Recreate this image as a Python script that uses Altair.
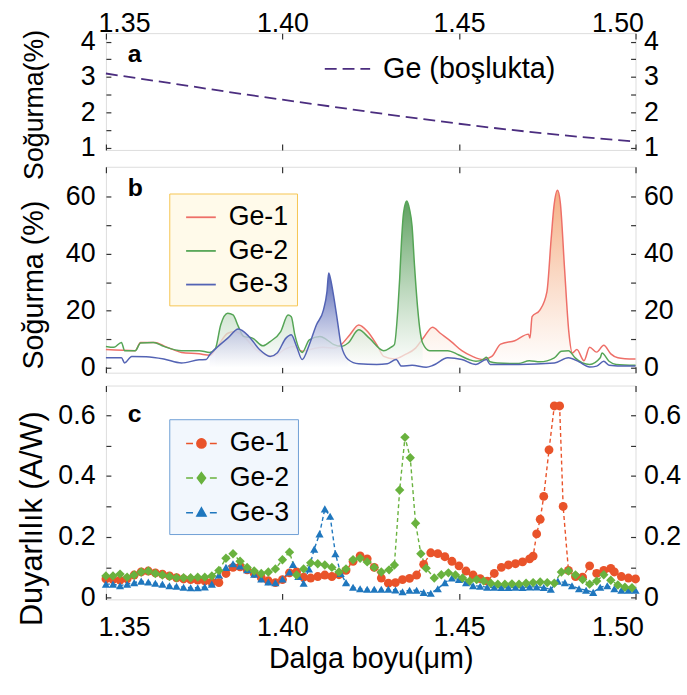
import altair as alt
import pandas as pd

FONT = "Liberation Sans"

# ---------------- Panel a : Ge (in void) absorption ----------------
wl_a = [1.35, 1.36, 1.37, 1.38, 1.39, 1.40, 1.41, 1.42, 1.43, 1.44, 1.45, 1.46, 1.47, 1.48, 1.49, 1.50]
abs_a = [3.10, 2.95, 2.80, 2.65, 2.50, 2.36, 2.22, 2.08, 1.94, 1.81, 1.68, 1.56, 1.45, 1.35, 1.26, 1.18]

# ---------------- Panel b : absorption of Ge-1/2/3 ----------------
wl_b1 = [1.3500, 1.3583, 1.3598, 1.3639, 1.3664, 1.3714, 1.3764, 1.3794, 1.3810, 1.3845,
         1.3865, 1.3895, 1.3925, 1.3955, 1.3975, 1.4005, 1.4030, 1.4056, 1.4086, 1.4116,
         1.4146, 1.4166, 1.4191, 1.4216, 1.4241, 1.4267, 1.4287, 1.4317, 1.4347, 1.4377,
         1.4402, 1.4425, 1.4447, 1.4478, 1.4508, 1.4538, 1.4568, 1.4593, 1.4618, 1.4658,
         1.4697, 1.4701, 1.4707, 1.4729, 1.4749, 1.4761, 1.4769, 1.4779, 1.4787, 1.4799,
         1.4811, 1.4821, 1.4834, 1.4854, 1.4870, 1.4890, 1.4910, 1.4930, 1.4950, 1.4970, 1.5000]
abs_b1 = [6.4, 6.0, 8.9, 8.9, 7.7, 5.4, 4.9, 4.4, 6.4, 12.1,
          12.7, 10.4, 6.4, 4.4, 4.0, 6.4, 7.5, 5.8, 6.7, 7.2,
          6.9, 8.1, 11.6, 15.0, 12.7, 8.1, 4.0, 3.1, 4.6, 6.9,
          11.0, 14.2, 12.1, 9.2, 6.0, 4.0, 2.9, 4.0, 8.3, 9.5,
          11.8, 10.4, 17.9, 20.2, 26.6, 45.1, 56.6, 62.2, 57.8, 34.7,
          12.7, 5.2, 6.4, 2.5, 7.2, 5.5, 7.9, 4.9, 3.5, 3.2, 3.1]

wl_b2 = [1.3500, 1.3523, 1.3544, 1.3553, 1.3583, 1.3598, 1.3634, 1.3664, 1.3714, 1.3764,
         1.3794, 1.3810, 1.3825, 1.3845, 1.3860, 1.3875, 1.3890, 1.3915, 1.3945, 1.3965,
         1.3995, 1.4016, 1.4025, 1.4035, 1.4056, 1.4076, 1.4106, 1.4126, 1.4146, 1.4166,
         1.4186, 1.4216, 1.4246, 1.4287, 1.4307, 1.4317, 1.4327, 1.4332, 1.4337, 1.4343,
         1.4352, 1.4360, 1.4367, 1.4374, 1.4383, 1.4390, 1.4397, 1.4417, 1.4468, 1.4498,
         1.4528, 1.4548, 1.4568, 1.4578, 1.4588, 1.4608, 1.4669, 1.4699, 1.4729, 1.4770,
         1.4790, 1.4810, 1.4829, 1.4850, 1.4870, 1.4900, 1.4905, 1.4925, 1.4945, 1.5000]
abs_b2 = [7.5, 7.2, 8.9, 6.0, 6.0, 8.7, 8.9, 7.5, 6.0, 6.0,
          5.4, 6.7, 15.0, 19.1, 18.5, 14.5, 11.0, 10.4, 7.7, 9.2,
          12.7, 18.5, 17.9, 11.6, 5.4, 9.8, 11.0, 9.8, 8.1, 7.5,
          8.7, 13.3, 10.4, 6.0, 7.2, 8.1, 20.8, 31.2, 43.9, 54.3,
          58.4, 55.5, 49.7, 35.8, 20.8, 12.7, 8.7, 6.0, 6.0, 4.6,
          2.9, 2.3, 2.9, 3.7, 2.1, 1.7, 1.5, 2.5, 2.1, 3.5,
          5.8, 6.0, 3.5, 1.7, 1.2, 3.5, 5.2, 2.3, 1.2, 0.9]

wl_b3 = [1.3500, 1.3544, 1.3553, 1.3573, 1.3614, 1.3664, 1.3714, 1.3764, 1.3784, 1.3794,
         1.3815, 1.3845, 1.3875, 1.3905, 1.3935, 1.3965, 1.3985, 1.4010, 1.4025, 1.4040,
         1.4056, 1.4076, 1.4096, 1.4116, 1.4126, 1.4131, 1.4136, 1.4146, 1.4156, 1.4166,
         1.4186, 1.4216, 1.4267, 1.4297, 1.4322, 1.4337, 1.4367, 1.4407, 1.4427, 1.4468,
         1.4508, 1.4548, 1.4578, 1.4588, 1.4669, 1.4770, 1.4810, 1.4840, 1.4870, 1.4890,
         1.4910, 1.4925, 1.4973, 1.5000]
abs_b3 = [3.5, 3.5, 1.7, 4.0, 3.9, 3.1, 1.7, 2.8, 2.9, 4.6,
          7.2, 10.4, 13.6, 11.0, 6.4, 4.0, 5.2, 10.4, 11.6, 7.5,
          2.9, 8.1, 15.0, 20.2, 26.6, 33.2, 31.2, 24.3, 16.2, 8.1,
          2.9, 1.4, 1.2, 1.4, 2.9, 0.6, 0.9, 0.2, 0.9, 3.5,
          2.9, 1.2, 2.9, 1.2, 1.2, 1.7, 3.5, 2.1, 0.3, 0.6,
          2.3, 0.9, 0.6, 0.6]

# ---------------- Panel c : responsivity (A/W) ----------------
wl_c1 = [1.350, 1.352, 1.354, 1.356, 1.358, 1.360, 1.362, 1.364, 1.366, 1.368,
         1.370, 1.372, 1.374, 1.376, 1.378, 1.380, 1.382, 1.384, 1.386, 1.388,
         1.390, 1.392, 1.394, 1.396, 1.398, 1.400, 1.402, 1.404, 1.406, 1.408,
         1.410, 1.412, 1.414, 1.416, 1.418, 1.420, 1.422, 1.424, 1.426, 1.428,
         1.430, 1.432, 1.434, 1.436, 1.438, 1.440, 1.442, 1.444, 1.446, 1.448,
         1.450, 1.452, 1.454, 1.456, 1.458, 1.460, 1.462, 1.464, 1.466, 1.468,
         1.470, 1.471, 1.472, 1.473, 1.474, 1.4755, 1.477, 1.4785, 1.4795, 1.481,
         1.483, 1.485, 1.487, 1.489, 1.491, 1.493, 1.494, 1.496, 1.498, 1.500]
resp_c1 = [0.062, 0.060, 0.058, 0.062, 0.075, 0.085, 0.088, 0.082, 0.078, 0.072,
           0.066, 0.062, 0.060, 0.058, 0.056, 0.052, 0.050, 0.080, 0.100, 0.102,
           0.092, 0.080, 0.066, 0.056, 0.050, 0.060, 0.082, 0.085, 0.068, 0.065,
           0.070, 0.075, 0.070, 0.076, 0.090, 0.120, 0.138, 0.128, 0.100, 0.065,
           0.048, 0.050, 0.060, 0.064, 0.075, 0.110, 0.148, 0.145, 0.135, 0.120,
           0.105, 0.088, 0.075, 0.063, 0.055, 0.080, 0.100, 0.108, 0.112, 0.118,
           0.128, 0.137, 0.210, 0.258, 0.333, 0.486, 0.630, 0.630, 0.300, 0.090,
           0.070, 0.068, 0.105, 0.080, 0.090, 0.097, 0.085, 0.070, 0.065, 0.062]

wl_c2 = [1.350, 1.352, 1.354, 1.356, 1.358, 1.360, 1.362, 1.364, 1.366, 1.368,
         1.370, 1.372, 1.374, 1.376, 1.378, 1.380, 1.382, 1.384, 1.386, 1.388,
         1.390, 1.392, 1.394, 1.396, 1.398, 1.400, 1.402, 1.404, 1.406, 1.408,
         1.410, 1.412, 1.414, 1.416, 1.418, 1.420, 1.422, 1.424, 1.426, 1.428,
         1.4302, 1.4317, 1.4332, 1.4347, 1.4362, 1.4377, 1.4392, 1.4407,
         1.443, 1.445, 1.447, 1.449, 1.451, 1.453, 1.455, 1.457, 1.459, 1.461,
         1.463, 1.465, 1.467, 1.469, 1.471, 1.473, 1.475, 1.477, 1.479, 1.481,
         1.483, 1.485, 1.487, 1.489, 1.491, 1.493, 1.495, 1.497, 1.499]
resp_c2 = [0.072, 0.072, 0.078, 0.068, 0.075, 0.085, 0.088, 0.080, 0.075, 0.070,
           0.066, 0.066, 0.066, 0.068, 0.068, 0.072, 0.090, 0.130, 0.145, 0.120,
           0.100, 0.088, 0.080, 0.085, 0.095, 0.125, 0.150, 0.075, 0.095, 0.115,
           0.112, 0.108, 0.100, 0.085, 0.095, 0.125, 0.130, 0.118, 0.100, 0.085,
           0.092, 0.108, 0.354, 0.527, 0.460, 0.245, 0.145, 0.097,
           0.065, 0.076, 0.082, 0.075, 0.065, 0.055, 0.060, 0.055, 0.048, 0.045,
           0.045, 0.046, 0.045, 0.048, 0.050, 0.052, 0.050, 0.048, 0.085, 0.088,
           0.075, 0.060, 0.045, 0.055, 0.076, 0.058, 0.042, 0.035, 0.033]

wl_c3 = [1.350, 1.352, 1.354, 1.356, 1.358, 1.360, 1.362, 1.364, 1.366, 1.368,
         1.370, 1.372, 1.374, 1.376, 1.378, 1.380, 1.382, 1.384, 1.386, 1.388,
         1.390, 1.392, 1.394, 1.396, 1.398, 1.400, 1.402,
         1.403, 1.4045, 1.406, 1.4075, 1.409, 1.4105, 1.412, 1.4135, 1.415, 1.4165, 1.418,
         1.420, 1.422, 1.424, 1.426, 1.428, 1.430, 1.432, 1.434, 1.436, 1.438,
         1.440, 1.442, 1.444, 1.446, 1.448, 1.450, 1.452, 1.454, 1.456, 1.458,
         1.460, 1.462, 1.464, 1.466, 1.468, 1.470, 1.472, 1.474, 1.476, 1.478,
         1.480, 1.482, 1.484, 1.486, 1.488, 1.490, 1.492, 1.494, 1.496, 1.498, 1.500]
resp_c3 = [0.045, 0.045, 0.040, 0.045, 0.050, 0.055, 0.052, 0.048, 0.045, 0.040,
           0.038, 0.035, 0.033, 0.033, 0.036, 0.045, 0.075, 0.100, 0.112, 0.105,
           0.092, 0.078, 0.062, 0.052, 0.050, 0.062, 0.085,
           0.110, 0.070, 0.048, 0.095, 0.160, 0.210, 0.292, 0.268, 0.145, 0.080, 0.050,
           0.035, 0.030, 0.028, 0.028, 0.028, 0.028, 0.026, 0.020, 0.025, 0.025,
           0.018, 0.015, 0.030, 0.050, 0.065, 0.060, 0.050, 0.040, 0.038, 0.035,
           0.035, 0.034, 0.034, 0.035, 0.034, 0.036, 0.036, 0.034, 0.028, 0.055,
           0.050, 0.040, 0.030, 0.025, 0.018, 0.035, 0.040, 0.030, 0.025, 0.025, 0.025]

series = ["Ge-1", "Ge-2", "Ge-3"]
x_ticks = [1.35, 1.40, 1.45, 1.50]

df_a = pd.DataFrame({"wl": wl_a, "v": abs_a, "s": "Ge (boşlukta)"})
df_b = pd.concat([
    pd.DataFrame({"wl": wl_b1, "v": abs_b1, "s": "Ge-1"}),
    pd.DataFrame({"wl": wl_b2, "v": abs_b2, "s": "Ge-2"}),
    pd.DataFrame({"wl": wl_b3, "v": abs_b3, "s": "Ge-3"}),
], ignore_index=True)
df_c = pd.concat([
    pd.DataFrame({"wl": wl_c1, "v": resp_c1, "s": "Ge-1"}),
    pd.DataFrame({"wl": wl_c2, "v": resp_c2, "s": "Ge-2"}),
    pd.DataFrame({"wl": wl_c3, "v": resp_c3, "s": "Ge-3"}),
], ignore_index=True)

W = 535
H_A, H_B, H_C = 118, 208, 216
xs = alt.Scale(domain=[1.35, 1.50], nice=False, zero=False)
TICK = "#333333"
LBL = 27


def xax(orient, labels=False, title=None):
    kw = dict(orient=orient, values=x_ticks, tickSize=6, offset=-6, domain=False, grid=False,
              tickColor=TICK, tickWidth=1.2, labels=labels, title=title)
    if labels:
        kw.update(format=".2f", labelFontSize=LBL, labelFont=FONT, labelColor="black",
                  labelPadding=(15 if orient == "bottom" else -4), labelFlush=True,
                  labelFlushOffset=8)
    if title:
        kw.update(titleFontSize=29, titleFont=FONT, titleFontWeight="normal", titleColor="black",
                  titlePadding=5)
    return alt.Axis(**kw)


def yax(orient, values, expr, fmt, title=None, ty=0, tsize=29):
    kw = dict(orient=orient, values=values, labelExpr=expr, format=fmt, tickSize=5, offset=-5,
              domain=False, grid=False, tickColor=TICK, tickWidth=1.2, labelFontSize=LBL,
              labelFont=FONT, labelColor="black", labelPadding=(11 if orient == "left" else 8),
              title=title)
    if title:
        kw.update(titleFontSize=tsize, titleFont=FONT, titleFontWeight="normal",
                  titleColor="black", titleX=-63, titleY=ty)
    return alt.Axis(**kw)


def panel_label(t, y):
    return alt.Chart(pd.DataFrame({"t": [t]})).mark_text(
        font=FONT, fontSize=25, fontWeight="bold", align="left", baseline="middle", color="black"
    ).encode(text="t:N", x=alt.value(22), y=alt.value(y))


# ---------- panel a ----------
ys_a = alt.Scale(domain=[0.94, 4.24], nice=False, zero=False)
ya_vals = [1, 1.5, 2, 2.5, 3, 3.5, 4]
ya_expr = "datum.value % 1 == 0 ? datum.label : ''"
base_a = alt.Chart(df_a)
line_a = base_a.mark_line(strokeDash=[12, 6], strokeWidth=1.8).encode(
    x=alt.X("wl:Q", scale=xs, axis=xax("bottom")),
    y=alt.Y("v:Q", scale=ys_a, axis=yax("left", ya_vals, ya_expr, "~g", "Soğurma(%)", 72, 27)),
    color=alt.Color("s:N", scale=alt.Scale(domain=["Ge (boşlukta)"], range=["#4B2D7F"]),
                    legend=alt.Legend(orient="none", legendX=220, legendY=12, title=None,
                                      symbolType="stroke", symbolSize=2100, symbolStrokeWidth=1.8,
                                      symbolDash=[12, 6], labelFontSize=29, labelFont=FONT,
                                      labelColor="black", labelOffset=12, padding=0,
                                      labelLimit=400)),
)
ghost_a = base_a.mark_line(opacity=0).encode(
    x=alt.X("wl:Q", scale=xs, axis=xax("top", labels=True)),
    y=alt.Y("v:Q", scale=ys_a, axis=yax("right", ya_vals, ya_expr, "~g")),
)
panel_a = alt.layer(line_a, ghost_a, panel_label("a", 21)).resolve_axis(
    x="independent", y="independent").properties(width=W, height=H_A)

# ---------- panel b ----------
ys_b = alt.Scale(domain=[-1.7, 70.4], nice=False, zero=False)
yb_vals = [0, 10, 20, 30, 40, 50, 60]
yb_expr = "datum.value % 20 == 0 ? datum.label : ''"
cs_b = alt.Scale(domain=series, range=["#EE6F68", "#55A556", "#5363B4"])


def grad(top_rgba):
    return alt.Gradient(gradient="linear",
                        stops=[alt.GradientStop(color=top_rgba, offset=0),
                               alt.GradientStop(color="rgba(255,255,255,0.7)", offset=1)],
                        x1=0, x2=0, y1=0, y2=1)


fill_ranges = {"Ge-1": (1.380, 1.4836), "Ge-2": (1.380, 1.4410), "Ge-3": (1.379, 1.4190)}
fill_cols = {"Ge-1": "rgba(243,160,110,0.85)", "Ge-2": "rgba(76,150,78,0.9)",
             "Ge-3": "rgba(70,88,175,0.92)"}
base_b = alt.Chart(df_b)
layers_b = []
for i, s in enumerate(series):
    lo, hi = fill_ranges[s]
    area = base_b.transform_filter(
        f"datum.s == '{s}' && datum.wl >= {lo} && datum.wl <= {hi}"
    ).mark_area(color=grad(fill_cols[s]), interpolate="monotone").encode(
        x=alt.X("wl:Q", scale=xs, axis=(xax("top") if i == 0 else None)),
        y=alt.Y("v:Q", scale=ys_b, axis=(yax("right", yb_vals, yb_expr, "d") if i == 0 else None)),
    )
    line = base_b.transform_filter(f"datum.s == '{s}'").mark_line(
        strokeWidth=1.5, interpolate="monotone").encode(
        x=alt.X("wl:Q", scale=xs, axis=(xax("bottom") if i == 0 else None)),
        y=alt.Y("v:Q", scale=ys_b,
                axis=(yax("left", yb_vals, yb_expr, "d", "Soğurma (%)", 119) if i == 0 else None)),
        color=alt.Color("s:N", scale=cs_b,
                        legend=alt.Legend(orient="none", legendX=64, legendY=27, title=None,
                                          symbolType="stroke", symbolSize=900, symbolStrokeWidth=1.8,
                                          labelFontSize=LBL, labelFont=FONT, labelColor="black",
                                          labelOffset=12, padding=8, rowPadding=5,
                                          symbolOffset=8, fillColor="#FFFAEA",
                                          strokeColor="#F6C552", cornerRadius=0)),
    )
    layers_b += [area, line]
panel_b = alt.layer(*layers_b, panel_label("b", 22)).resolve_axis(
    x="independent", y="independent").properties(width=W, height=H_B)

# ---------- panel c ----------
ys_c = alt.Scale(domain=[-0.005, 0.697], nice=False, zero=False)
yc_vals = [0, 0.1, 0.2, 0.3, 0.4, 0.5, 0.6]
yc_expr = "round(datum.value * 10) % 2 == 0 ? datum.label : ''"
c_cols = {"Ge-1": "#E9532A", "Ge-2": "#69B23E", "Ge-3": "#1F77BE"}
dash_part = "M-1,0H-0.55M0.55,0H1"
leg_shapes = [
    dash_part + "M0.3,0A0.3,0.3,0,1,1,-0.3,0A0.3,0.3,0,1,1,0.3,0Z",
    dash_part + "M0,-0.36L0.27,0L0,0.36L-0.27,0Z",
    dash_part + "M0,-0.32L0.3,0.22L-0.3,0.22Z",
]
pt_shapes = {"Ge-1": ("circle", 80), "Ge-2": ("diamond", 90), "Ge-3": ("triangle-up", 68)}
base_c = alt.Chart(df_c)
layers_c = []
for i, s in enumerate(["Ge-1", "Ge-3", "Ge-2"]):
    sub = base_c.transform_filter(f"datum.s == '{s}'")
    layers_c.append(sub.mark_line(strokeDash=[4, 3], strokeWidth=1.4, color=c_cols[s]).encode(
        x=alt.X("wl:Q", scale=xs,
                axis=(xax("bottom", labels=True, title="Dalga boyu(μm)") if i == 0 else None)),
        y=alt.Y("v:Q", scale=ys_c,
                axis=(yax("left", yc_vals, yc_expr, "~g", "Duyarlılık (A/W)", 134, 31)
                      if i == 0 else None)),
    ))
for i, s in enumerate(["Ge-1", "Ge-3", "Ge-2"]):
    shp, sz = pt_shapes[s]
    layers_c.append(base_c.transform_filter(f"datum.s == '{s}'").mark_point(
        filled=True, shape=shp, size=sz, opacity=1, color=c_cols[s]).encode(
        x=alt.X("wl:Q", scale=xs, axis=(xax("top") if i == 0 else None)),
        y=alt.Y("v:Q", scale=ys_c, axis=(yax("right", yc_vals, yc_expr, "~g") if i == 0 else None)),
    ))
leg_c = alt.Legend(orient="none", legendX=64, legendY=34, title=None, symbolSize=960,
                   symbolStrokeWidth=1.5, symbolOpacity=1, labelFontSize=LBL, labelFont=FONT,
                   labelColor="black", labelOffset=12, padding=8, rowPadding=5, symbolOffset=8,
                   fillColor="#F2F7FD", strokeColor="#6F9FD6", cornerRadius=0)
col_list = [c_cols[s] for s in series]
# legend-only layer: its points sit outside the x domain and are clipped away
leg_layer = base_c.transform_calculate(xo="1.9").mark_point(
    filled=True, opacity=1, clip=True).encode(
    x=alt.X("xo:Q", scale=xs, axis=None),
    y=alt.Y("v:Q", scale=ys_c, axis=None),
    fill=alt.Fill("s:N", scale=alt.Scale(domain=series, range=col_list), legend=leg_c),
    stroke=alt.Stroke("s:N", scale=alt.Scale(domain=series, range=col_list), legend=leg_c),
    shape=alt.Shape("s:N", scale=alt.Scale(domain=series, range=leg_shapes), legend=leg_c),
)
panel_c = alt.layer(*layers_c, leg_layer, panel_label("c", 29)).resolve_axis(
    x="independent", y="independent").properties(width=W, height=H_C)

inner = alt.vconcat(panel_b, panel_c, spacing=13, bounds="flush").resolve_scale(
    color="independent", fill="independent", stroke="independent", shape="independent")
chart = alt.vconcat(panel_a, inner, spacing=17, bounds="flush").resolve_scale(
    color="independent", fill="independent", stroke="independent", shape="independent"
).properties(padding={"left": 16, "top": 5, "right": 5, "bottom": 5}).configure_view(
    stroke="#333333", strokeWidth=1.4).configure(font=FONT)

chart.save("out.html", embed_options={"renderer": "svg", "actions": False})
